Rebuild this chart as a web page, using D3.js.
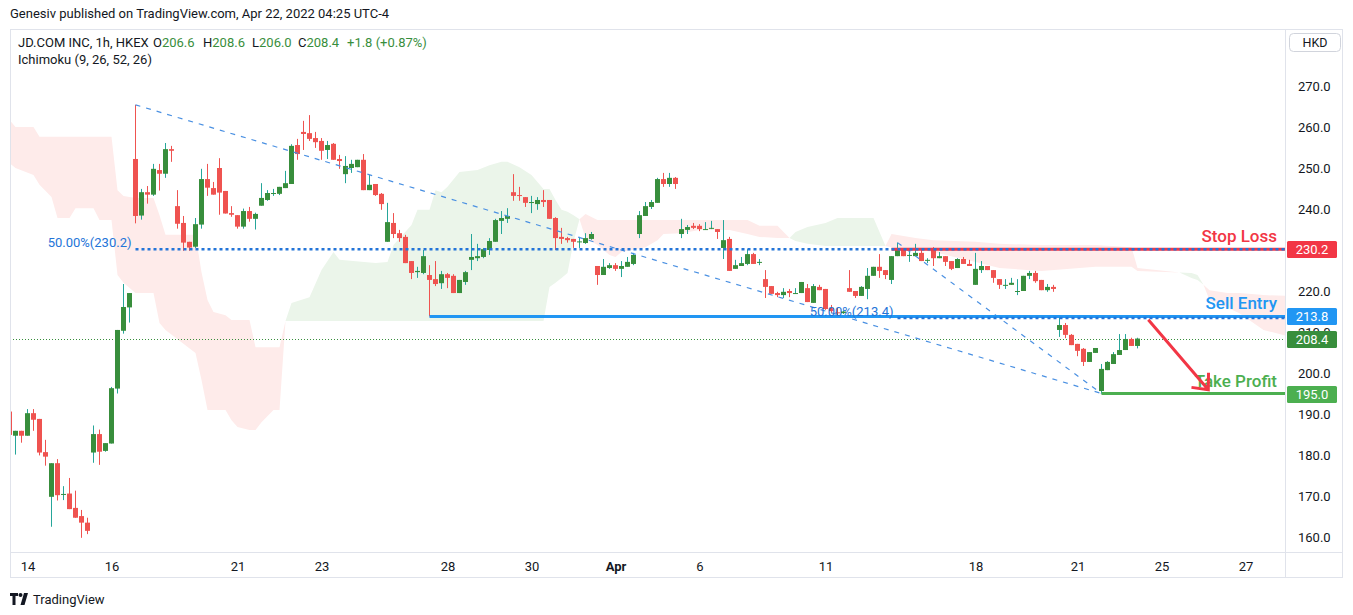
<!DOCTYPE html>
<html>
<head>
<meta charset="utf-8">
<script src="https://cdn.jsdelivr.net/npm/d3@7"></script>
<style>
  body { margin: 0; background: #fff; }
  svg { display: block; font-family: Roboto, "Noto Sans", sans-serif; }
</style>
</head>
<body>
<div id="chart"></div>
<script>
// hourly bars, [open, high, low, close]; first bar sits at index firstBar
const firstBar = -3;
const candles = [
  [190.6,190.8,184.9,184.9],[184.7,185.9,180.1,185.9],[185.9,185.9,183.0,184.7],
  [184.7,191.2,184.7,190.2],[190.2,191.2,185.9,188.6],[188.8,188.8,179.9,180.6],[180.7,183.7,177.4,179.6],
  [169.8,178.0,162.5,178.0],[178.0,179.0,168.9,170.2],[170.4,172.4,169.0,170.5],[170.6,174.4,166.8,166.8],
  [167.1,171.3,164.7,164.7],[165.1,166.6,159.8,163.5],[163.5,164.7,160.7,161.5],
  [180.6,187.2,178.1,185.1],[185.1,186.2,177.6,180.8],[181.0,182.9,180.8,182.9],[182.8,196.6,182.8,196.3],
  [196.2,210.5,195.0,210.5],[210.3,221.7,209.6,216.1],[216.0,219.5,212.3,219.5],
  [252.2,265.4,236.5,238.3],[238.4,244.9,237.4,244.1],[244.1,245.6,241.3,243.5],[243.5,251.0,243.2,249.8],
  [249.5,251.0,244.5,248.6],[248.6,256.1,247.6,254.6],[254.6,255.4,251.5,254.2],
  [240.7,244.6,235.2,236.4],[236.6,238.3,229.8,231.8],[232.0,232.0,229.8,230.6],[230.8,237.8,230.5,236.3],
  [236.2,249.8,235.2,247.3],[247.3,251.0,243.2,245.2],[245.1,246.6,243.5,243.5],
  [250.0,252.4,238.6,244.0],[244.4,244.4,238.9,238.9],[239.0,240.7,238.1,238.6],[238.5,238.5,235.2,235.7],
  [235.7,240.1,235.2,239.5],[239.5,240.5,236.9,237.6],[237.6,239.1,235.0,238.8],
  [240.8,246.3,240.8,242.7],[242.2,244.6,242.0,243.9],[243.7,244.9,243.2,243.9],[243.7,245.4,243.4,245.4],
  [245.1,249.3,245.1,246.3],[246.1,255.8,246.1,255.4],[255.6,257.1,252.0,253.4],
  [258.8,261.5,254.4,258.3],[258.5,262.9,256.6,257.1],[257.3,258.8,254.9,256.3],[256.6,257.3,252.0,254.2],
  [254.4,256.6,252.2,255.6],[255.9,256.1,252.0,252.0],[252.2,253.2,249.8,251.7],
  [248.5,252.9,246.3,250.5],[250.0,252.0,248.8,251.0],[250.2,252.0,250.2,252.0],[252.0,253.4,244.6,244.6],
  [244.6,248.3,244.6,245.9],[246.1,246.1,243.2,243.4],[243.7,243.9,239.8,241.2],
  [232.0,241.5,232.0,236.8],[236.6,239.0,232.9,233.9],[234.1,234.9,232.0,232.9],[233.2,233.7,226.8,226.8],
  [227.3,227.3,222.9,224.4],[224.6,225.9,223.2,224.9],[224.4,230.0,224.1,228.5],
  [223.9,226.3,213.8,222.7],[222.9,227.3,221.2,221.7],[221.9,224.9,220.5,224.1],[224.1,224.4,220.7,223.2],
  [223.7,224.1,219.5,219.5],[219.5,222.7,219.5,222.7],[222.2,224.9,221.5,224.6],
  [227.6,233.9,225.1,228.3],[228.0,231.5,227.3,228.5],[228.3,230.5,228.0,230.2],[230.0,232.9,228.8,232.2],
  [232.0,237.6,232.0,237.3],[237.1,239.5,233.9,237.8],[237.6,240.2,236.6,238.3],
  [244.1,248.5,242.0,243.2],[243.4,245.4,242.0,243.2],[242.9,242.9,240.5,241.5],[241.5,243.2,239.0,241.7],
  [241.2,242.9,239.8,242.2],[242.2,244.6,240.5,241.7],[242.2,242.2,237.6,237.6],
  [237.8,238.0,230.0,232.9],[233.2,235.4,231.5,232.7],[232.9,233.2,231.8,232.4],[232.7,232.7,230.5,232.0],
  [232.0,233.2,230.5,232.1],[231.7,234.1,231.5,232.9],[232.7,234.4,232.5,233.9],
  [226.1,226.1,221.5,223.9],[223.9,227.8,223.9,225.9],[225.6,226.8,225.4,226.3],[226.3,226.8,224.9,225.4],
  [225.4,227.3,223.4,226.1],[225.9,228.3,225.9,227.1],[226.6,229.3,226.3,228.8],
  [233.9,239.5,232.9,238.5],[238.3,241.7,238.3,240.7],[240.5,242.2,240.0,241.7],[241.5,247.6,241.5,247.3],
  [247.3,248.8,245.4,246.1],[246.1,248.8,245.4,247.6],[247.6,247.8,244.9,246.1],
  [233.9,237.6,232.9,235.1],[234.9,236.1,233.9,235.6],[235.9,236.6,235.1,235.4],[235.9,236.3,234.6,235.1],
  [235.0,236.8,234.9,235.1],[235.3,237.1,235.1,235.4],[235.1,235.1,232.7,234.4],
  [230.5,237.3,227.8,232.4],[232.7,233.2,224.9,224.9],[225.4,227.6,225.4,226.3],[226.1,228.3,226.1,226.8],
  [226.6,230.2,226.3,229.0],[229.0,229.3,226.6,226.6],[227.0,227.8,226.3,227.1],
  [222.9,225.1,218.3,221.0],[221.2,221.2,219.3,219.3],[219.5,219.8,218.5,219.0],[219.0,220.7,218.3,219.8],
  [220.0,220.5,218.5,219.5],[219.4,220.7,219.3,219.5],[219.5,222.2,219.5,222.2],
  [220.7,221.7,217.3,217.3],[217.1,221.7,217.1,221.2],[221.0,221.5,220.2,220.2],[220.5,220.5,215.4,215.6],
  [215.9,216.6,214.6,215.1],[214.8,215.9,213.7,214.6],[214.6,215.3,214.4,215.0],
  [220.7,225.1,219.8,219.8],[220.0,220.0,218.3,218.8],[218.8,221.2,218.8,221.0],[220.5,225.6,218.0,223.7],
  [223.7,225.9,223.7,225.9],[225.9,229.0,223.2,224.9],[225.1,225.1,222.9,223.9],
  [222.7,228.5,221.7,228.5],[228.5,231.8,228.5,230.0],[230.2,230.2,228.5,228.5],[228.7,230.0,227.1,228.8],
  [228.5,231.5,228.5,229.3],[229.3,230.0,227.3,227.3],[227.5,228.0,226.8,227.6],
  [230.0,230.7,226.1,228.0],[228.0,229.5,228.0,228.5],[228.5,228.5,226.1,227.1],[227.3,227.3,225.1,225.4],
  [225.6,228.0,225.6,227.8],[227.8,228.3,226.6,226.6],[226.6,227.6,226.1,226.1],
  [221.5,229.3,221.5,225.4],[225.1,227.3,224.4,226.1],[226.1,226.1,225.1,225.1],[225.1,225.1,222.0,223.2],
  [222.9,222.9,220.5,221.5],[221.4,222.9,220.5,221.5],[221.5,223.2,221.5,222.0],
  [219.9,222.9,219.0,220.0],[220.0,223.7,220.0,223.7],[223.7,224.9,222.9,224.4],[224.4,224.9,222.0,222.4],
  [222.7,222.7,220.2,220.2],[220.2,221.7,219.8,221.0],[221.0,221.5,219.8,220.5],
  [210.5,213.7,208.8,211.7],[211.7,212.2,208.5,209.3],[209.3,209.5,206.8,206.8],[207.1,207.1,204.1,205.4],
  [205.9,206.1,201.7,202.7],[202.7,205.1,202.7,205.1],[204.9,206.1,204.9,206.1],
  [195.6,202.2,195.0,201.0],[200.7,202.9,200.7,202.7],[202.2,205.1,202.2,204.6],[204.4,209.5,204.4,205.6],
  [205.6,209.5,205.6,208.3],[208.3,208.6,206.6,206.6],[206.6,208.6,206.0,208.4]
];

// Ichimoku cloud (leading spans, already shifted forward), read at these bar indices
const cloudBars = [-3,-2,1,2,4,5,7,8,11,12,14,15,16,18,21,22,23,28,29,30,31,33,34,35,37,38,39,41,42,
  43,44,47,49,51,52,58,60,61,64,65,67,68,69,70,72,75,77,79,80,82,84,86,87,88,89,90,91,
  92,93,95,97,98,99,103,105,106,109,112,117,120,122,125,
  127,128,130,133,135,141,142,
  143,144,148,151,158,162,169,178,184,185,
  192,194,195,196,197,200,202,206,210];
const spanA = [251.2,250.0,248.3,245.9,242.9,237.8,237.8,240.2,240.2,237.3,237.3,223.9,222.0,219.5,219.5,212.2,210.5,204.9,198.3,191.0,191.0,191.0,188.5,186.8,186.1,186.1,188.0,191.0,191.0,
  212.7,217.1,218.5,225.1,229.5,227.6,226.8,227.1,231.2,236.1,239.8,239.8,244.6,244.1,245.4,249.0,249.5,250.7,251.5,251.5,250.2,248.3,244.9,244.9,242.2,239.8,239.3,238.5,
  237.5,232.9,231.2,228.8,228.3,229.5,230.7,232.4,233.9,234.1,234.9,234.9,233.9,233.2,232.9,
  232.9,234.4,235.6,236.6,237.8,237.8,234.4,
  231.0,230.7,230.2,229.5,227.1,225.6,224.9,225.9,225.9,224.9,
  224.5,224.4,223.9,221.5,217.8,215.9,214.6,210.5,209.0];
const spanB = [261.7,260.0,260.0,257.6,257.6,257.6,257.6,257.6,257.6,257.6,257.6,244.6,243.2,242.7,242.7,238.5,233.7,233.7,224.6,217.8,214.9,214.1,212.9,212.9,212.9,206.3,206.3,206.3,206.3,
  212.7,212.7,212.7,212.7,212.7,212.7,212.7,212.7,212.7,212.7,212.7,212.7,212.7,212.7,212.7,212.7,212.7,212.7,212.7,212.7,212.7,212.7,212.7,221.0,222.0,223.2,224.4,232.0,
  237.5,238.8,237.3,237.3,237.3,237.3,237.3,237.3,237.3,237.3,237.3,237.3,237.3,235.9,235.9,
  232.9,232.2,231.5,231.0,231.0,231.0,231.0,
  231.0,233.9,232.9,232.4,232.0,231.5,231.2,231.2,230.7,225.6,
  224.5,223.2,222.7,221.5,220.2,219.5,219.5,219.0,218.8];

const yTicks = [160, 170, 180, 190, 200, 210, 220, 230, 240, 250, 260, 270];
const xTickBars = [0, 14, 35, 49, 70, 84, 98, 112, 133, 158, 175, 189, 203];
const xTickLabels = ["14", "16", "21", "23", "28", "30", "Apr", "6", "11", "18", "21", "25", "27"];

// fib retracements: [bar, price] of the swing high and the swing low
const fibHighs = [[18, 265.4], [145, 231.8]];
const fibLows = [[179, 195.0], [179, 195.0]];
const fibRatio = 0.5;

const tradeNames = ["Stop Loss", "Sell Entry", "Take Profit"];
const tradePrices = [230.2, 213.8, 195.0];
const tradeStarts = [144, 67, 179];
const arrowFrom = [186.8, 213.0];
const arrowTo = [196.8, 195.9];

const W = 1353, H = 615;
const plotL = 10, plotR = 1285, plotT = 30, plotB = 552;

const x = d3.scaleLinear().domain([0, 203]).range([27.5, 1245.5]);
const y = d3.scaleLinear().domain([160, 270]).range([537, 86]);

const svg = d3.select("#chart").append("svg")
  .attr("width", W).attr("height", H);

svg.append("defs").append("clipPath").attr("id", "plot")
  .append("rect").attr("x", plotL).attr("y", plotT + 1)
  .attr("width", plotR - plotL).attr("height", plotB - plotT - 1);

const plot = svg.append("g").attr("clip-path", "url(#plot)");

// cloud
const cloud = cloudBars.map((b, i) => ({b: b, a: spanA[i], s: spanB[i]}));
plot.append("path").datum(cloud)
  .attr("fill", "#ebf5ea")
  .attr("d", d3.area().x(d => x(d.b)).y0(d => y(d.s)).y1(d => y(Math.max(d.a, d.s))));
plot.append("path").datum(cloud)
  .attr("fill", "#feebea")
  .attr("d", d3.area().x(d => x(d.b)).y0(d => y(d.s)).y1(d => y(Math.min(d.a, d.s))));

// last price line
const last = candles[candles.length - 1];
const prev = candles[candles.length - 2];
plot.append("line")
  .attr("x1", plotL).attr("x2", plotR)
  .attr("y1", Math.round(y(last[3])) + 0.5).attr("y2", Math.round(y(last[3])) + 0.5)
  .attr("stroke", "#388e3c").attr("stroke-width", 1).attr("stroke-dasharray", "1,2");

// candles
const bars = plot.append("g").selectAll("g").data(candles).enter().append("g");
bars.append("line")
  .attr("x1", (d, i) => x(firstBar + i)).attr("x2", (d, i) => x(firstBar + i))
  .attr("y1", d => y(d[1])).attr("y2", d => y(d[2]))
  .attr("stroke", d => d[3] >= d[0] ? "#26a69a" : "#ef5350").attr("stroke-width", 1);
bars.append("rect")
  .attr("x", (d, i) => x(firstBar + i) - 2.5).attr("width", 5)
  .attr("y", d => y(Math.max(d[0], d[3])))
  .attr("height", d => Math.max(1, Math.abs(y(d[0]) - y(d[3]))))
  .attr("fill", d => d[3] >= d[0] ? "#388e3c" : "#ef5350");

// fib swing lines
fibHighs.forEach((h, i) => {
  const l = fibLows[i];
  plot.append("line")
    .attr("x1", x(h[0])).attr("y1", y(h[1]))
    .attr("x2", x(l[0])).attr("y2", y(l[1]))
    .attr("stroke", "#4a90e2").attr("stroke-width", 1.2).attr("stroke-dasharray", "5,6");
});

// trade levels
const tradeColors = ["#f23645", "#2196f3", "#4caf50"];
tradePrices.forEach((p, i) => {
  plot.append("line")
    .attr("x1", x(tradeStarts[i])).attr("x2", plotR)
    .attr("y1", y(p)).attr("y2", y(p))
    .attr("stroke", tradeColors[i]).attr("stroke-width", 3);
});

// fib 50% levels
fibHighs.forEach((h, i) => {
  const l = fibLows[i];
  const lvl = Math.round((l[1] + (h[1] - l[1]) * fibRatio) * 10) / 10;
  plot.append("line")
    .attr("x1", x(h[0])).attr("x2", plotR)
    .attr("y1", y(lvl)).attr("y2", y(lvl))
    .attr("stroke", "#2374d8").attr("stroke-width", 2.5).attr("stroke-dasharray", "3,3");
  plot.append("text")
    .attr("x", x(h[0]) - 4).attr("y", y(lvl) - 2)
    .attr("text-anchor", "end").attr("font-size", 13).attr("fill", "#2374d8")
    .text((fibRatio * 100).toFixed(2) + "%(" + lvl.toFixed(1) + ")");
});

tradeNames.forEach((n, i) => {
  plot.append("text")
    .attr("x", plotR - 8).attr("y", y(tradePrices[i]) - 7)
    .attr("text-anchor", "end").attr("font-size", 17).attr("font-weight", 500)
    .attr("fill", tradeColors[i]).text(n);
});

// arrow
{
  const x1 = x(arrowFrom[0]), y1 = y(arrowFrom[1]);
  const x2 = x(arrowTo[0]), y2 = y(arrowTo[1]);
  const ang = Math.atan2(y1 - y2, x1 - x2);
  const len = 17, spread = 0.72;
  const p = d3.path();
  p.moveTo(x1, y1); p.lineTo(x2, y2);
  p.moveTo(x2 + len * Math.cos(ang + spread), y2 + len * Math.sin(ang + spread));
  p.lineTo(x2, y2);
  p.lineTo(x2 + len * Math.cos(ang - spread), y2 + len * Math.sin(ang - spread));
  plot.append("path").attr("d", p.toString())
    .attr("fill", "none").attr("stroke", "#f23645").attr("stroke-width", 3)
    .attr("stroke-linejoin", "miter").attr("stroke-linecap", "butt");
}

// frame
const frame = "#e0e3eb";
svg.append("rect").attr("x", plotL + 0.5).attr("y", plotT - 0.5)
  .attr("width", 1343 - plotL - 1).attr("height", 578 - plotT)
  .attr("fill", "none").attr("stroke", frame);
svg.append("line").attr("x1", plotR + 0.5).attr("x2", plotR + 0.5)
  .attr("y1", plotT).attr("y2", 578).attr("stroke", frame);
svg.append("line").attr("x1", plotL).attr("x2", 1343)
  .attr("y1", plotB + 0.5).attr("y2", plotB + 0.5).attr("stroke", frame);

// price axis
const yAxis = svg.append("g").attr("transform", `translate(${plotR},0)`)
  .call(d3.axisRight(y).tickValues(yTicks).tickSize(0).tickPadding(13).tickFormat(d => d.toFixed(1)));
yAxis.select(".domain").remove();
yAxis.selectAll("text").attr("font-size", 13).attr("fill", "#131722").attr("font-family", "Roboto, sans-serif");

const boxPrices = tradePrices.concat([last[3]]);
const boxColors = tradeColors.concat(["#388e3c"]);
boxPrices.forEach((p, i) => {
  const g = svg.append("g");
  g.append("rect").attr("x", 1287).attr("y", Math.round(y(p)) - 8)
    .attr("width", 50).attr("height", 17).attr("rx", 1.5).attr("fill", boxColors[i]);
  g.append("text").attr("x", 1312).attr("y", Math.round(y(p)) + 5)
    .attr("text-anchor", "middle").attr("font-size", 13).attr("fill", "#fff")
    .text(p.toFixed(1));
});

svg.append("rect").attr("x", 1289.5).attr("y", 33.5).attr("width", 51).attr("height", 18)
  .attr("rx", 4).attr("fill", "#fff").attr("stroke", "#d1d4dc");
svg.append("text").attr("x", 1315).attr("y", 47).attr("text-anchor", "middle")
  .attr("font-size", 12.5).attr("fill", "#131722").text("HKD");

// time axis
const xAxis = svg.append("g").attr("transform", `translate(0,${plotB})`)
  .call(d3.axisBottom(x).tickValues(xTickBars).tickSize(0).tickPadding(10)
    .tickFormat((d, i) => xTickLabels[i]));
xAxis.select(".domain").remove();
xAxis.selectAll("text").attr("font-size", 13).attr("fill", "#131722").attr("font-family", "Roboto, sans-serif")
  .attr("font-weight", (d, i) => xTickLabels[i] === "Apr" ? 700 : 400);

// header
svg.append("text").attr("x", 10).attr("y", 18).attr("font-size", 13).attr("fill", "#131722")
  .text("Genesiv published on TradingView.com, Apr 22, 2022 04:25 UTC-4");

const up = "#388e3c";
const chg = last[3] - prev[3];
const legend = svg.append("text").attr("y", 47).attr("font-size", 13).attr("fill", "#131722");
legend.append("tspan").attr("x", 18).text("JD.COM INC, 1h, HKEX");
legend.append("tspan").attr("x", 153).text("O");
legend.append("tspan").attr("fill", up).text(last[0].toFixed(1));
legend.append("tspan").attr("x", 203).text("H");
legend.append("tspan").attr("fill", up).text(last[1].toFixed(1));
legend.append("tspan").attr("x", 252).text("L");
legend.append("tspan").attr("fill", up).text(last[2].toFixed(1));
legend.append("tspan").attr("x", 298).text("C");
legend.append("tspan").attr("fill", up).text(last[3].toFixed(1));
legend.append("tspan").attr("x", 347).attr("fill", up)
  .text((chg >= 0 ? "+" : "") + chg.toFixed(1) + " (" + (chg >= 0 ? "+" : "") + (chg / prev[3] * 100).toFixed(2) + "%)");
svg.append("text").attr("x", 18).attr("y", 64).attr("font-size", 13).attr("fill", "#131722")
  .text("Ichimoku (9, 26, 52, 26)");

// footer logo
const logo = svg.append("g").attr("transform", "translate(10,593)").attr("fill", "#131722");
logo.append("path").attr("d", "M0 0H8V3H5.5V12H2.5V3H0Z");
logo.append("circle").attr("cx", 10.5).attr("cy", 2).attr("r", 2);
logo.append("path").attr("d", "M14 0H18L14.5 12H10.5Z");
svg.append("text").attr("x", 33).attr("y", 604).attr("font-size", 13).attr("fill", "#131722")
  .text("TradingView");
</script>
</body>
</html>
